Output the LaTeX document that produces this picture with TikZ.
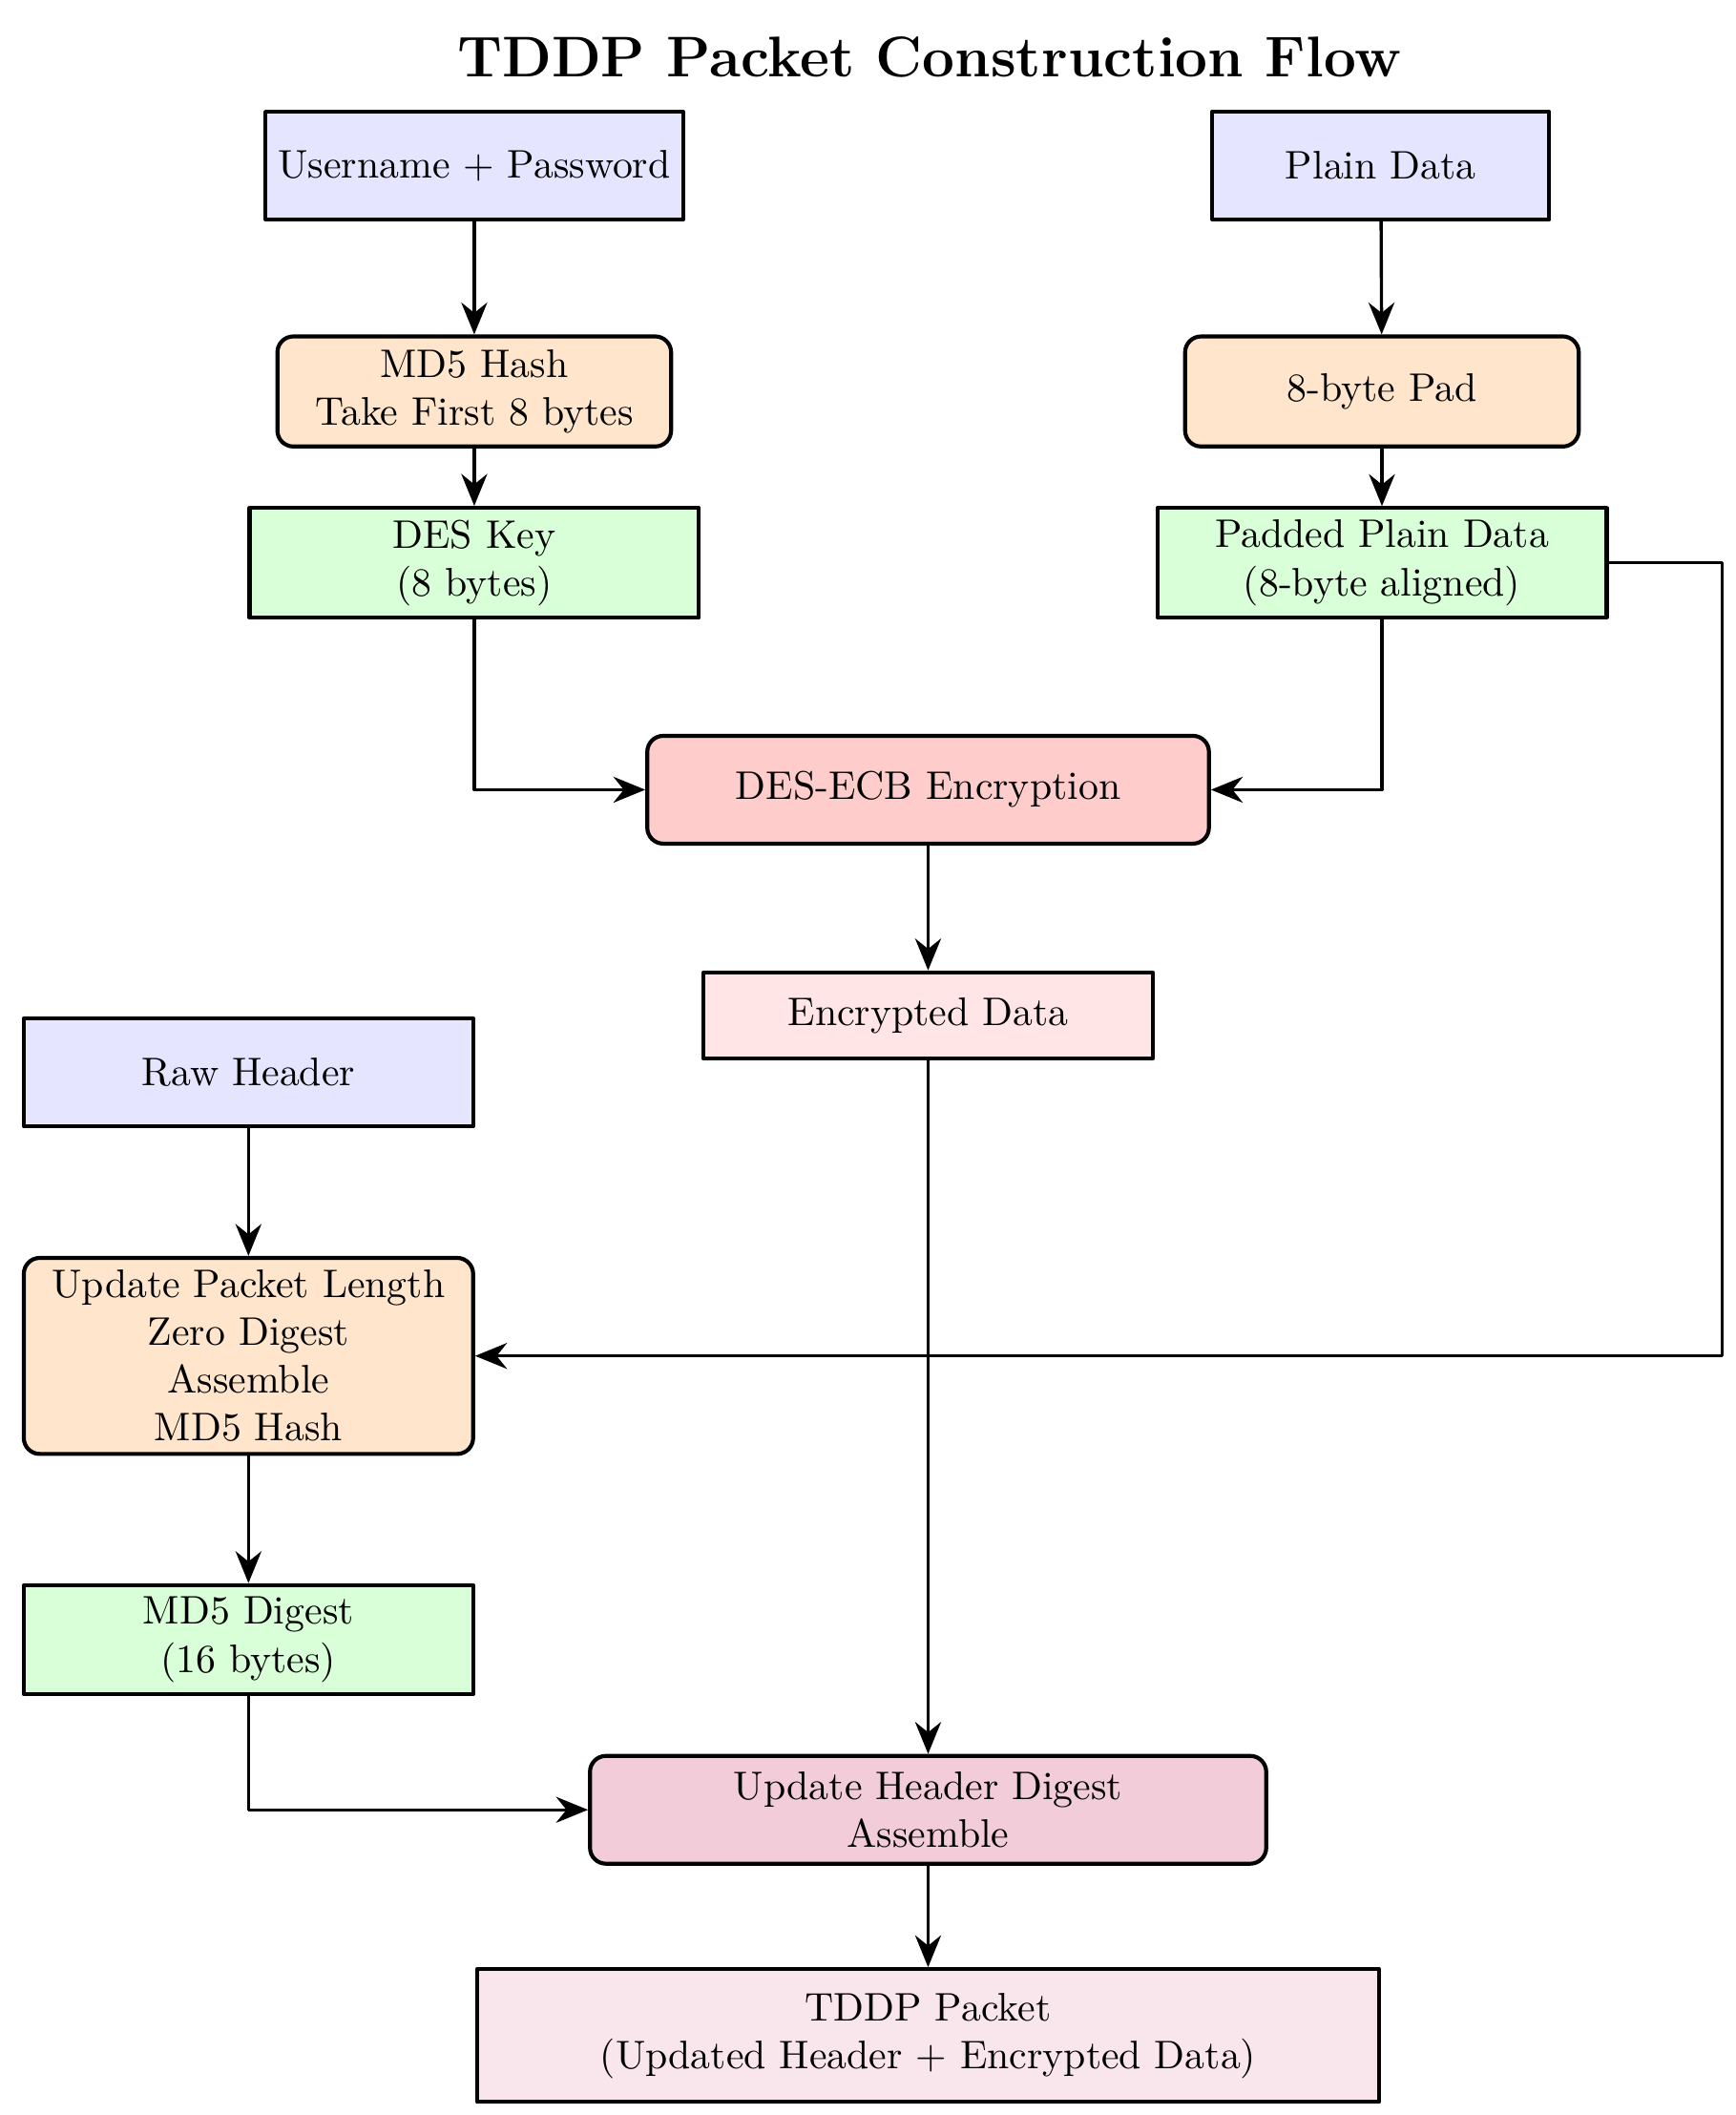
\documentclass[tikz,border=0pt]{standalone}
\usetikzlibrary{arrows.meta}
\begin{document}
\begin{tikzpicture}[line join=round, >={Stealth[length=8pt,width=6.5pt]},
	box/.style={draw, line width=1pt, align=center, inner sep=3pt, minimum height=0.95cm},
	inbox/.style={box, fill=blue!10},
	opbox/.style={box, rounded corners=4pt, fill=orange!20},
	databox/.style={box, fill=green!15, minimum width=3.96cm},
	flow/.style={->, thick}]
	\useasboundingbox (0,0) rectangle (15.3,-18.64);
	\node[font=\Large\bfseries] (title) at (8.19,-0.50) {TDDP Packet Construction Flow};
	% key branch
	\node[inbox, minimum width=3.68cm] (cred) at (4.18,-1.46) {Username + Password};
	\node[opbox, minimum width=3.47cm, minimum height=0.97cm] (hash) at (4.18,-3.45) {MD5 Hash\\Take First 8 bytes};
	\node[databox] (key) at (4.18,-4.96) {DES Key\\(8 bytes)};
	% data branch
	\node[inbox, minimum width=2.97cm] (plain) at (12.17,-1.46) {Plain Data};
	\node[opbox, minimum width=3.47cm, minimum height=0.97cm] (pad) at (12.18,-3.45) {8-byte Pad};
	\node[databox] (padded) at (12.18,-4.96) {Padded Plain Data\\(8-byte aligned)};
	% encryption
	\node[box, rounded corners=4pt, fill=red!20, minimum width=4.95cm] (des) at (8.18,-6.96) {DES-ECB Encryption};
	\node[box, fill=red!10, minimum width=3.96cm, minimum height=0.76cm] (encdata) at (8.18,-8.95) {Encrypted Data};
	% header branch
	\node[inbox, minimum width=3.96cm] (raw) at (2.19,-9.45) {Raw Header};
	\node[opbox, minimum width=3.96cm, minimum height=1.70cm] (hdr) at (2.19,-11.95) {Update Packet Length\\Zero Digest\\Assemble\\MD5 Hash};
	\node[databox] (digest) at (2.19,-14.45) {MD5 Digest\\(16 bytes)};
	% output
	\node[box, rounded corners=4pt, fill=purple!20, minimum width=5.96cm] (upd) at (8.18,-15.95) {Update Header Digest\\Assemble};
	\node[box, fill=purple!10, minimum width=7.95cm, minimum height=1.17cm] (packet) at (8.18,-17.94) {TDDP Packet\\(Updated Header + Encrypted Data)};
	\coordinate (turn) at (15.18,-4.96);
	% connectors
	\draw[flow] (cred) -- (hash);
	\draw[flow] (hash) -- (key);
	\draw[flow] (plain) -- (pad);
	\draw[flow] (pad) -- (padded);
	\draw[flow] (key) |- (des);
	\draw[flow] (padded) |- (des);
	\draw[flow] (des) -- (encdata);
	\draw[flow] (padded.east) -- (turn) |- (hdr.east);
	\draw[flow] (raw) -- (hdr);
	\draw[flow] (hdr) -- (digest);
	\draw[flow] (encdata) -- (upd);
	\draw[flow] (digest) |- (upd);
	\draw[flow] (upd) -- (packet);
\end{tikzpicture}
\end{document}
